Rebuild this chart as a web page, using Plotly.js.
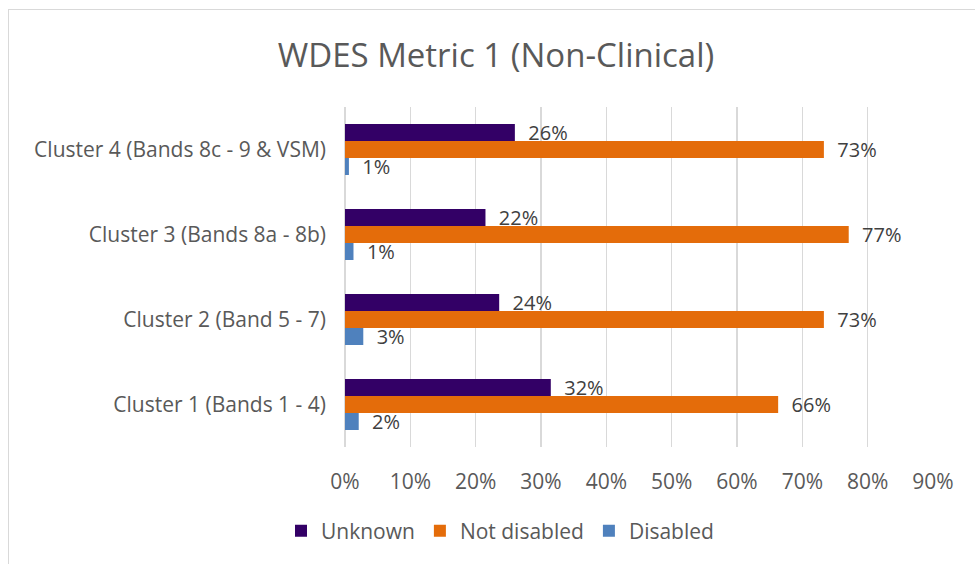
<!DOCTYPE html>
<html>
<head>
<meta charset="utf-8">
<script src="https://cdn.plot.ly/plotly-3.0.1.min.js"></script>
<style>
  html, body { margin: 0; padding: 0; background: #ffffff; }
  #frame { position: absolute; left: 8px; top: 9px; width: 980px; height: 560px; border: 1px solid #d9d9d9; box-sizing: border-box; }
  #chart { position: absolute; left: 0; top: 0; width: 975px; height: 564px; }
</style>
</head>
<body>
<div id="frame"></div>
<div id="chart"></div>
<script>
const categories = [
  "Cluster 1 (Bands 1 - 4)",
  "Cluster 2 (Band 5 - 7)",
  "Cluster 3 (Bands 8a - 8b)",
  "Cluster 4 (Bands 8c - 9 & VSM)"
];
const seriesNames = ["Unknown", "Not disabled", "Disabled"];
const unknownVals = [0.315, 0.236, 0.215, 0.260];
const notDisabledVals = [0.663, 0.733, 0.771, 0.733];
const disabledVals = [0.021, 0.028, 0.013, 0.006];
const tickVals = [0, 0.1, 0.2, 0.3, 0.4, 0.5, 0.6, 0.7, 0.8, 0.9];
const tickText = ["0%", "10%", "20%", "30%", "40%", "50%", "60%", "70%", "80%", "90%"];
const colors = { "Unknown": "#330066", "Not disabled": "#E46C0A", "Disabled": "#4F81BD" };

const fontFam = "Open Sans, Noto Sans, sans-serif";
const textColor = "#595959";

function barTrace(name, vals, rank) {
  return {
    type: "bar",
    orientation: "h",
    name: name,
    y: categories,
    x: vals,
    marker: { color: colors[name], line: { width: 0 } },
    texttemplate: "\u00a0\u00a0%{x:.0%}",
    textposition: "outside",
    constraintext: "none",
    cliponaxis: false,
    textfont: { family: fontFam, size: 20, color: "#404040" },
    legendrank: rank,
    hoverinfo: "skip"
  };
}

const data = [
  barTrace("Disabled", disabledVals, 3),
  barTrace("Not disabled", notDisabledVals, 2),
  barTrace("Unknown", unknownVals, 1)
];

const layout = {
  width: 975,
  height: 564,
  paper_bgcolor: "rgba(0,0,0,0)",
  plot_bgcolor: "rgba(0,0,0,0)",
  margin: { l: 345, r: 42, t: 107, b: 117 },
  title: {
    text: "WDES Metric 1 (Non-Clinical)",
    font: { family: fontFam, size: 33, color: textColor },
    x: 496 / 975, xref: "container", xanchor: "center",
    y: 1 - 55 / 564, yref: "container", yanchor: "middle"
  },
  barmode: "group",
  bargap: 0.4,
  bargroupgap: 0,
  xaxis: {
    range: [0, 0.9],
    tickvals: tickVals,
    ticktext: tickText,
    showgrid: true,
    gridcolor: "#d9d9d9",
    gridwidth: 1.5,
    zeroline: true,
    zerolinecolor: "#d9d9d9",
    zerolinewidth: 1.5,
    showline: false,
    ticks: "",
    ticklabelstandoff: 20,
    tickfont: { family: fontFam, size: 21, color: textColor },
    fixedrange: true
  },
  yaxis: {
    type: "category",
    categoryorder: "array",
    categoryarray: categories,
    showgrid: false,
    zeroline: false,
    showline: false,
    ticks: "",
    ticklabelstandoff: 18,
    tickfont: { family: fontFam, size: 21, color: textColor },
    fixedrange: true
  },
  legend: {
    orientation: "h",
    x: (500 - 345) / 588,
    xanchor: "center",
    y: -84 / 340,
    yanchor: "middle",
    font: { family: fontFam, size: 21, color: textColor },
    itemwidth: 30,
    traceorder: "normal"
  },
  showlegend: true
};

Plotly.newPlot("chart", data, layout, { displayModeBar: false, staticPlot: true });
</script>
</body>
</html>
